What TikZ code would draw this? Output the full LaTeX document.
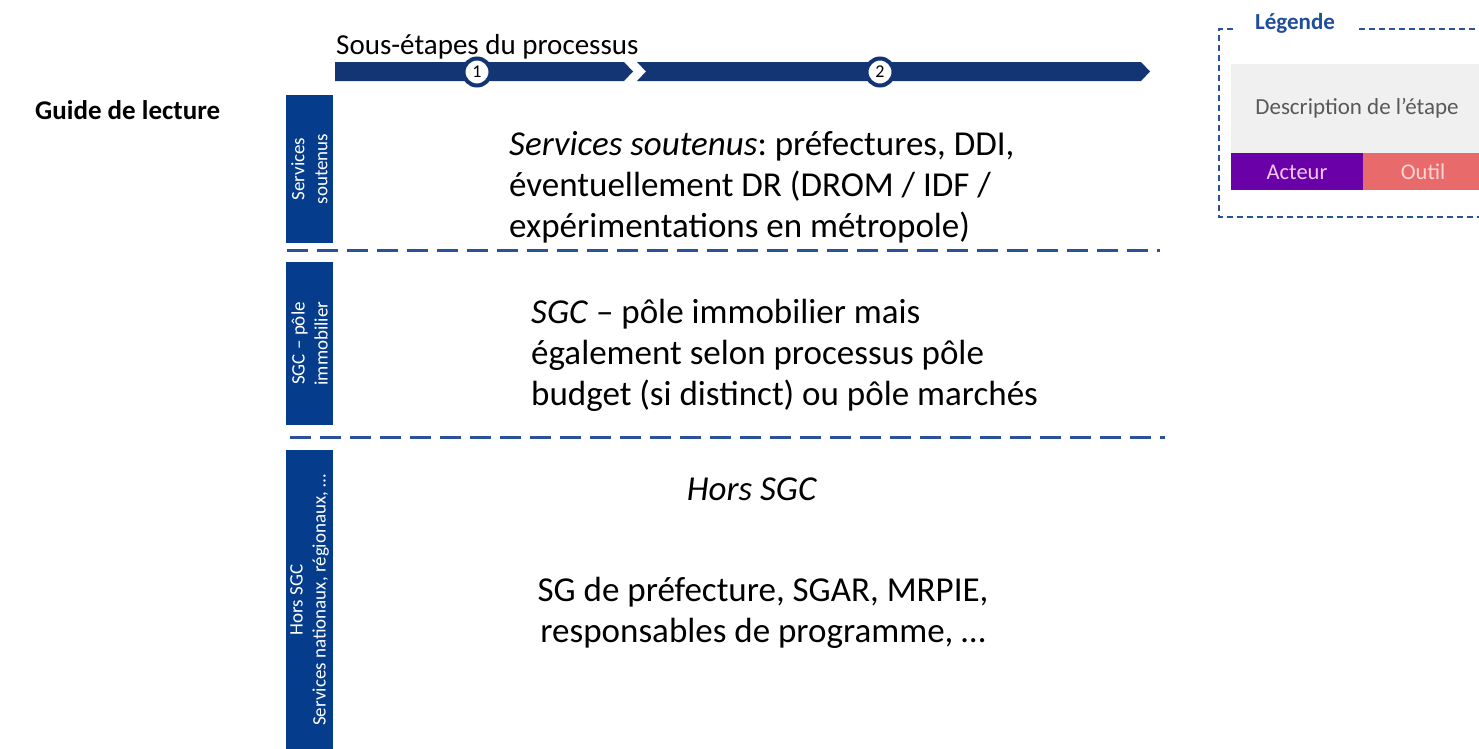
\documentclass[tikz,border=0pt]{standalone}
\usepackage{fontspec}
\setmainfont{Carlito}
\frenchspacing
\definecolor{navy}{HTML}{133574}
\definecolor{barblue}{HTML}{053C8C}
\definecolor{dashblue}{HTML}{2A5298}
\definecolor{legblue}{HTML}{1F4E9A}
\definecolor{acteur}{HTML}{6A00A8}
\definecolor{outil}{HTML}{E96A6A}
\definecolor{descgray}{HTML}{F0F0F0}
\definecolor{desctext}{HTML}{595959}
\tikzset{
  barnode/.style={rotate=90, fill=barblue, text=white, align=center, inner sep=0pt,
    minimum height=47pt, font=\fontsize{19}{23}\selectfont},
  sepline/.style={draw=dashblue, line width=3pt, dash pattern=on 21pt off 9pt},
  maintext/.style={align=left, inner sep=0pt, font=\fontsize{35}{41}\selectfont},
  stepcircle/.style={circle, draw=navy, line width=4pt, fill=white, minimum size=27pt,
    inner sep=0pt, font=\fontsize{18}{18}\selectfont},
  legline/.style={draw=dashblue, line width=1.3pt, dash pattern=on 6pt off 4pt},
}
\begin{document}
\begin{tikzpicture}[x=1pt,y=-1pt]
\useasboundingbox (0,0) rectangle (1479,748);

% title texts
\node[anchor=base west, inner sep=0pt, font=\fontsize{29}{32}\selectfont] (sous) at (336,54) {Sous-étapes du processus};
\node[anchor=base west, inner sep=0pt, font=\fontsize{27}{30}\selectfont\bfseries] (guide) at (35,119) {Guide de lecture};

% process arrow
\fill[navy] (335,62) -- (624,62) -- (633,71.5) -- (624,81) -- (335,81) -- cycle;
\fill[navy] (637,62) -- (1141,62) -- (1150,71.5) -- (1141,81) -- (637,81) -- (646,71.5) -- cycle;
\node[stepcircle] (c1) at (477,72) {1};
\node[stepcircle] (c2) at (880,72) {2};

% vertical bars
\node[barnode, minimum width=148pt] (b1) at (309.5,169) {Services\\soutenus};
\node[barnode, minimum width=163pt] (b2) at (309.5,343.5) {SGC – pôle\\immobilier};
\node[barnode, minimum width=300pt] (b3) at (309.5,600) {Hors SGC\\Services nationaux, régionaux, …};

% separators
\draw[sepline] (287,250) -- (1160,250);
\draw[sepline] (290,437) -- (1165,437);

% main texts
\node[maintext, anchor=west] (t1) at (509,187) {\textit{Services soutenus}: préfectures, DDI,\\éventuellement DR (DROM / IDF /\\expérimentations en métropole)};
\node[maintext, anchor=west] (t2) at (531,355) {\textit{SGC} – pôle immobilier mais\\également selon processus pôle\\budget (si distinct) ou pôle marchés};
\node[maintext, anchor=base] (t3) at (752,500) {\textit{Hors SGC}};
\node[maintext, align=center, anchor=center] (t4) at (763,613) {SG de préfecture, SGAR, MRPIE,\\responsables de programme, …};

% legend
\draw[legline] (1233,29) -- (1219,29) -- (1219,217) -- (1480,217);
\draw[legline] (1359,29) -- (1480,29);
\node[inner sep=0pt, text=legblue, font=\fontsize{23}{26}\selectfont\bfseries] (leg) at (1295,23) {Légende};
\node[fill=descgray, anchor=north west, minimum width=250pt, minimum height=89pt, inner sep=0pt] (descbox) at (1231,64) {};
\node[text=desctext, inner sep=0pt, font=\fontsize{23}{26}\selectfont] (desc) at (1357,108) {Description de l’étape};
\node[fill=acteur, anchor=north west, minimum width=132pt, minimum height=37pt, inner sep=0pt] (act) at (1231,153) {};
\node[fill=outil, anchor=north west, minimum width=118pt, minimum height=37pt, inner sep=0pt] (out) at (1363,153) {};
\node[text={rgb,255:red,240;green,200;blue,240}, inner sep=0pt, font=\fontsize{22.5}{24}\selectfont] (actt) at (1297,172) {Acteur};
\node[text={rgb,255:red,252;green,214;blue,214}, inner sep=0pt, font=\fontsize{22.5}{24}\selectfont] (outt) at (1423,172) {Outil};
\end{tikzpicture}
\end{document}
